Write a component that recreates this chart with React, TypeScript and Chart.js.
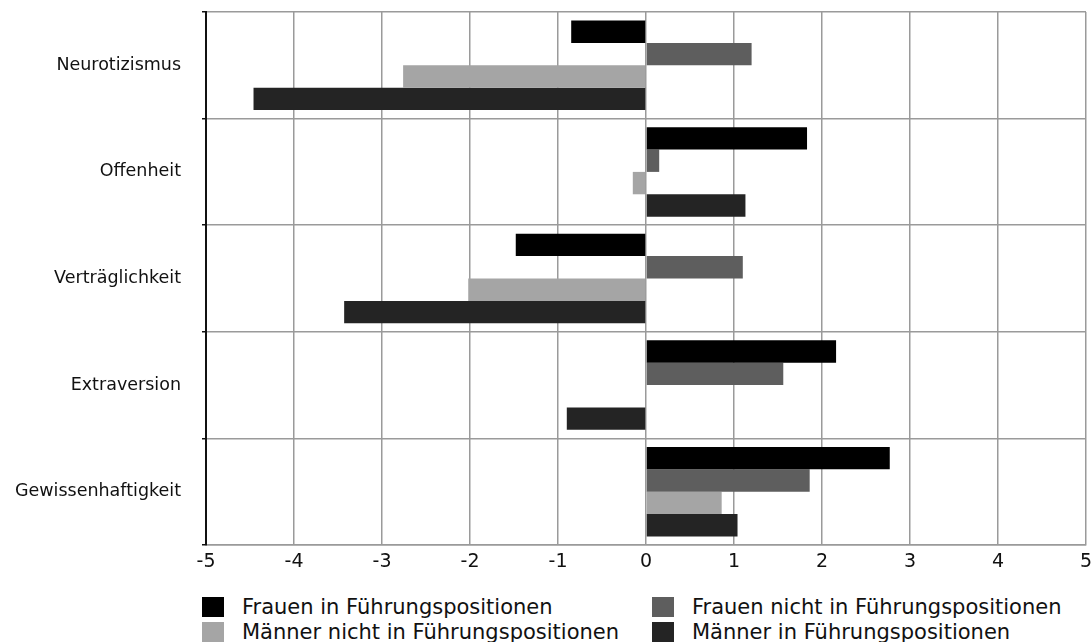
import React, { useEffect, useRef } from "react";
import { Chart, registerables } from "chart.js";

Chart.register(...registerables);

const categories = ["Neurotizismus", "Offenheit", "Verträglichkeit", "Extraversion", "Gewissenhaftigkeit"];
const seriesLabels = [
  "Frauen in Führungspositionen",
  "Frauen nicht in Führungspositionen",
  "Männer nicht in Führungspositionen",
  "Männer in Führungspositionen",
];
const frauenIn = [-0.85, 1.83, -1.48, 2.16, 2.77];
const frauenNicht = [1.2, 0.15, 1.1, 1.56, 1.86];
const maennerNicht = [-2.76, -0.15, -2.02, 0, 0.86];
const maennerIn = [-4.46, 1.13, -3.43, -0.9, 1.04];
const seriesColors = ["#000000", "#5e5e5e", "#a5a5a5", "#242424"];
const xMin = -5;
const xMax = 5;

const FONT = "'DejaVu Sans', sans-serif";
const CANVAS_H = 590;

export default function App() {
  const ref = useRef<HTMLCanvasElement | null>(null);

  useEffect(() => {
    if (!ref.current) return;
    const values = [frauenIn, frauenNicht, maennerNicht, maennerIn];
    const chart = new Chart(ref.current, {
      type: "bar",
      data: {
        labels: categories,
        datasets: values.map((v, i) => ({
          label: seriesLabels[i],
          data: v,
          backgroundColor: seriesColors[i],
          borderWidth: 0,
          categoryPercentage: 0.84,
          barPercentage: 1,
        })),
      },
      options: {
        indexAxis: "y",
        animation: false,
        responsive: false,
        maintainAspectRatio: false,
        layout: { padding: { top: 12, right: 6, left: 0, bottom: 0 } },
        plugins: { legend: { display: false }, tooltip: { enabled: false } },
        scales: {
          x: {
            type: "linear",
            min: xMin,
            max: xMax,
            ticks: {
              stepSize: 1,
              font: { family: FONT, size: 19 },
              color: "#111111",
              padding: 6,
            },
            grid: { color: "#9a9a9a", lineWidth: 1.5, drawTicks: false },
            border: { color: "#9a9a9a", width: 1.5 },
            afterFit: (s: any) => {
              s.height = CANVAS_H - 545;
              s.paddingLeft = 0;
              s.paddingRight = 0;
            },
          },
          y: {
            type: "category",
            offset: true,
            ticks: {
              font: { family: FONT, size: 17.5 },
              color: "#111111",
              padding: 21,
            },
            grid: {
              color: "#9a9a9a",
              lineWidth: 1.5,
              offset: true,
              tickColor: "#111111",
              tickLength: 4,
              drawTicks: true,
            },
            border: { color: "#111111", width: 2 },
            afterFit: (s: any) => {
              s.width = 206;
              s.paddingTop = 0;
              s.paddingBottom = 0;
            },
          },
        },
      },
    });
    return () => chart.destroy();
  }, []);

  return (
    <div
      style={{
        position: "fixed",
        left: 0,
        top: 0,
        width: 1092,
        height: 642,
        background: "#ffffff",
        overflow: "hidden",
      }}
    >
      <canvas ref={ref} width={1092} height={CANVAS_H} style={{ display: "block" }} />
      <div
        style={{
          position: "absolute",
          left: 202,
          top: 597,
          display: "grid",
          gridTemplateColumns: "450px 450px",
          gridAutoRows: "25px",
          fontFamily: FONT,
          fontSize: 21,
          color: "#111111",
        }}
      >
        {seriesLabels.map((l, i) => (
          <div key={l} style={{ display: "flex", alignItems: "flex-start", height: 25 }}>
            <span
              style={{
                display: "inline-block",
                width: 22,
                height: 20,
                background: seriesColors[i],
                marginRight: 18,
                flex: "0 0 auto",
              }}
            />
            <span style={{ lineHeight: "20px", whiteSpace: "nowrap" }}>{l}</span>
          </div>
        ))}
      </div>
    </div>
  );
}
